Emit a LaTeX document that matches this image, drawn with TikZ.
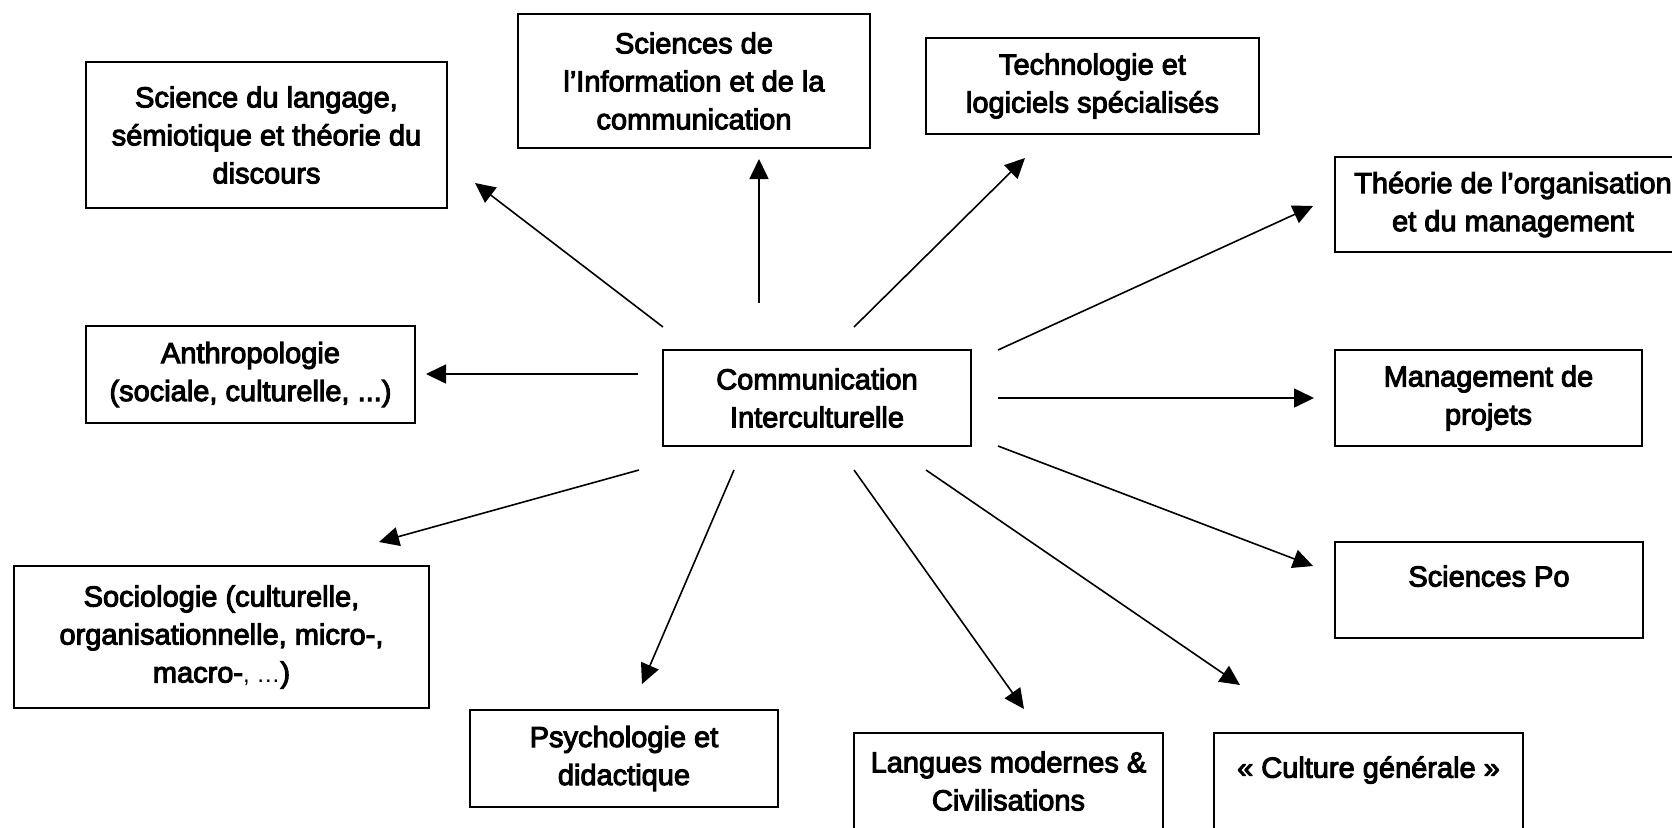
\documentclass[tikz,border=0pt]{standalone}
\usepackage{fontspec}
\setmainfont{Liberation Sans}
\newfontfamily\boxf[FakeBold=3.5]{Liberation Sans}
\newfontfamily\thinf{Liberation Sans}
\usetikzlibrary{arrows.meta}
\tikzset{
  box/.style={draw, line width=1pt, align=center, inner sep=0pt,
    font=\boxf\fontsize{14.5pt}{19pt}\selectfont},
  arr/.style={line width=0.8pt, -{Triangle[length=10pt,width=9.5pt]}}
}
\begin{document}
\begin{tikzpicture}[x=0.5pt,y=-0.5pt]
\useasboundingbox (0,0) rectangle (1672,827);
\clip (0,0) rectangle (1672,827);
% boxes
\node[box, minimum width=180.5pt, minimum height=73pt] (lang) at (266.5,135) {Science du langage,\\sémiotique et théorie du\\discours};
\node[box, minimum width=176pt, minimum height=67pt] (info) at (694,81) {Sciences de\\l’Information et de la\\communication};
\node[box, minimum width=166.5pt, minimum height=48pt] (tech) at (1092.5,86) {Technologie et\\logiciels spécialisés};
\node[box, minimum width=178pt, minimum height=47.5pt] (theo) at (1513,204.5) {Théorie de l’organisation\\et du management};
\node[box, minimum width=164.5pt, minimum height=48.5pt] (anth) at (250.5,374.5) {Anthropologie\\(sociale, culturelle, ...)};
\node[box, minimum width=154pt, minimum height=48pt] (cent) at (817,398) {Communication\\Interculturelle};
\node[box, minimum width=153.5pt, minimum height=48pt] (mgmt) at (1488.5,398) {Management de\\projets};
\node[box, minimum width=154pt, minimum height=48pt] (scpo) at (1489,590) {Sciences Po\\[-5pt]\mbox{}};
\node[box, minimum width=207.5pt, minimum height=71pt] (soc) at (221.5,637) {Sociologie (culturelle,\\organisationnelle, micro-,\\macro-{\thinf\fontsize{12pt}{19pt}\selectfont, …})};
\node[box, minimum width=154pt, minimum height=48.5pt] (psy) at (624,758.5) {Psychologie et\\didactique};
\node[box, minimum width=154.5pt, minimum height=48pt] (lmod) at (1008.5,781) {Langues modernes \&\\Civilisations};
\node[box, minimum width=154.5pt, minimum height=48pt] (cult) at (1368.5,781) {« Culture générale »\\[-5pt]\mbox{}};
% arrow end points
\coordinate (s1) at (663,327);  \coordinate (e1) at (475,183);
\coordinate (s2) at (759,303);  \coordinate (e2) at (759,159);
\coordinate (s3) at (854,327);  \coordinate (e3) at (1025,158);
\coordinate (s4) at (998,350);  \coordinate (e4) at (1313,206);
\coordinate (s5) at (998,398);  \coordinate (e5) at (1314,398);
\coordinate (s6) at (638,374);  \coordinate (e6) at (426,374);
\coordinate (s7) at (998,446);  \coordinate (e7) at (1313,566);
\coordinate (s8) at (926,470);  \coordinate (e8) at (1240,685);
\coordinate (s9) at (854,470);  \coordinate (e9) at (1024,709);
\coordinate (s10) at (639,470); \coordinate (e10) at (379,542);
\coordinate (s11) at (734,470); \coordinate (e11) at (642,684);
\foreach \i in {1,...,11} { \draw[arr] (s\i) -- (e\i); }
\end{tikzpicture}
\end{document}
